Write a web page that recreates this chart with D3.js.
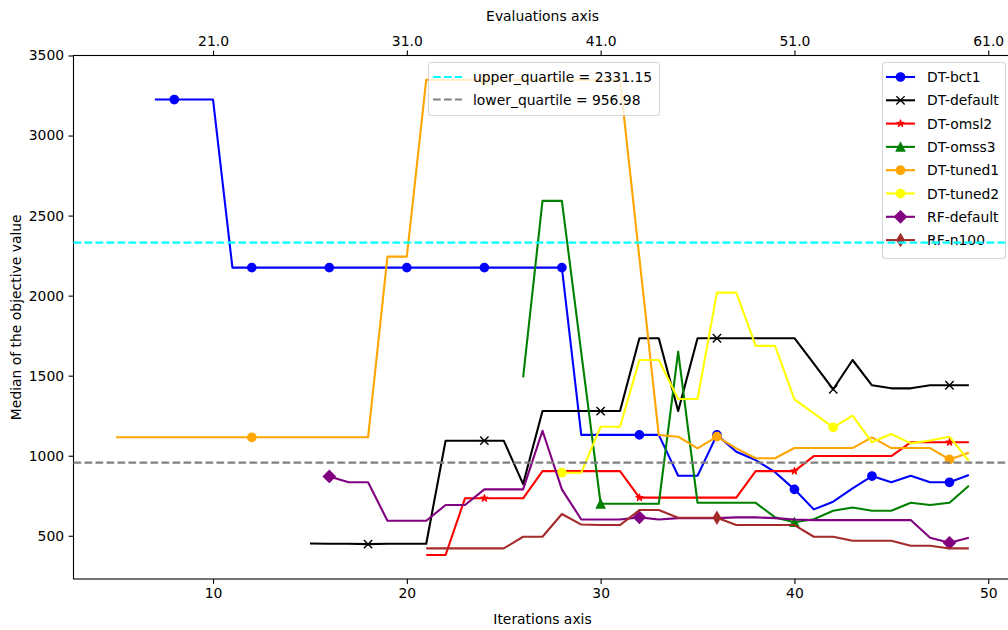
<!DOCTYPE html>
<html>
<head>
<meta charset="utf-8">
<script src="https://cdn.jsdelivr.net/npm/d3@7"></script>
<style>
  html, body { margin: 0; padding: 0; background: #fff; }
  svg text { font-family: "DejaVu Sans", sans-serif; fill: #000; }
</style>
</head>
<body>
<svg id="chart" width="1008" height="630"></svg>
<script>
// ---- data ---------------------------------------------------------------
const seriesNames = ["DT-bct1", "DT-default", "DT-omsl2", "DT-omss3",
                     "DT-tuned1", "DT-tuned2", "RF-default", "RF-n100"];
// first iteration of each series
const seriesStart = [7, 15, 21, 26, 5, 28, 16, 21];

const bct1 = [3225, 3225, 3225, 3225, 2175, 2175, 2175, 2175, 2175, 2175, 2175, 2175,
  2175, 2175, 2175, 2175, 2175, 2175, 2175, 2175, 2175, 2175, 1130, 1130, 1130, 1130, 1130,
  875, 875, 1130, 1025, 973, 897, 790, 665, 713, 796, 873, 834, 875, 834, 834, 879];
const dtDefault = [452, 450, 450, 448, 450, 450, 450, 1094, 1094, 1094, 1094, 823,
  1279, 1279, 1279, 1279, 1279, 1734, 1734, 1279, 1734, 1734, 1734, 1734, 1734, 1734,
  1575, 1415, 1598, 1440, 1421, 1421, 1440, 1440, 1440];
const omsl2 = [380, 380, 734, 734, 734, 734, 904, 904, 904, 904, 904, 738, 738, 738,
  738, 738, 738, 904, 904, 904, 998, 998, 998, 998, 998, 1084, 1084, 1084, 1084];
const omss3 = [1490, 2592, 2592, 1644, 700, 700, 700, 700, 1650, 706, 706, 706, 706,
  615, 585, 603, 656, 677, 656, 656, 706, 692, 706, 813];
const tuned1 = [1115, 1115, 1115, 1115, 1115, 1115, 1115, 1115, 1115, 1115, 1115, 1115,
  1115, 1115, 2244, 2244, 3348, 3348, 3348, 3348, 3348, 3348, 3348, 3348, 3348, 3348,
  3348, 2235, 1129, 1119, 1046, 1119, 1046, 984, 984, 1048, 1048, 1048, 1048, 1115,
  1048, 1048, 1048, 977, 1019];
const tuned2 = [894, 894, 1181, 1181, 1598, 1598, 1354, 1354, 2019, 2019, 1686, 1686,
  1352, 1265, 1177, 1250, 1084, 1136, 1077, 1095, 1119, 967];
const rfDefault = [871, 834, 834, 594, 594, 594, 692, 692, 790, 790, 790, 1156, 790,
  602, 602, 602, 615, 602, 610, 610, 610, 615, 615, 610, 602, 598, 598, 598, 598, 598,
  598, 488, 456, 488];
const rfN100 = [421, 421, 421, 421, 421, 494, 494, 636, 570, 567, 567, 661, 661, 613,
  613, 613, 567, 567, 567, 567, 494, 494, 469, 469, 469, 438, 438, 421, 421];

const seriesValues = [bct1, dtDefault, omsl2, omss3, tuned1, tuned2, rfDefault, rfN100];

const quartileNames = ["upper_quartile", "lower_quartile"];
const quartileValues = [2331.15, 956.98];

const xTicks = [10, 20, 30, 40, 50];
const topTickLabels = ["21.0", "31.0", "41.0", "51.0", "61.0"];
const yTicks = [500, 1000, 1500, 2000, 2500, 3000, 3500];

// ---- styles ---------------------------------------------------------------
const colors = ["#0000ff", "#000000", "#ff0000", "#008000",
                "#ffa500", "#ffff00", "#800080", "#a52a2a"];
const markers = ["o", "x", "*", "^", "o", "o", "D", "d"];
const markEvery = [4, 6, 8, 10, 12, 14, 16, 18];
const quartileColors = ["#00ffff", "#808080"];

// ---- layout ---------------------------------------------------------------
const svg = d3.select("#chart");
const L = 73.5, R = 1011.5, T = 55.5, B = 579;

const x = d3.scaleLinear().domain([2.8, 51.2]).range([L, R]);
const y = d3.scaleLinear().domain([230, 3500]).range([B, T]);

svg.append("rect").attr("width", 1008).attr("height", 630).attr("fill", "#fff");

const line = d3.line().x(d => x(d.i)).y(d => y(d.v)).curve(d3.curveLinear);

function markerPath(kind) {
  const s = 4.17; // half marker size in px
  switch (kind) {
    case "x": return `M${-s},${-s}L${s},${s}M${-s},${s}L${s},${-s}`;
    case "^": return `M0,${-s}L${-s},${s}L${s},${s}Z`;
    case "D": { const h = s * Math.SQRT2; return `M0,${-h}L${h},0L0,${h}L${-h},0Z`; }
    case "d": { const h = s * Math.SQRT2, w = h * 0.6; return `M0,${-h}L${w},0L0,${h}L${-w},0Z`; }
    case "*": {
      const ro = s * 0.95, ri = ro * 0.382;
      let p = "";
      for (let k = 0; k < 10; k++) {
        const r = k % 2 === 0 ? ro : ri;
        const a = -Math.PI / 2 + k * Math.PI / 5;
        p += (k === 0 ? "M" : "L") + (r * Math.cos(a)).toFixed(2) + "," + (r * Math.sin(a)).toFixed(2);
      }
      return p + "Z";
    }
    default: return d3.symbol(d3.symbolCircle, Math.PI * 4.17 * 4.17)();
  }
}

function drawMarker(g, kind, color, cx, cy) {
  const p = g.append("path")
    .attr("d", markerPath(kind))
    .attr("transform", `translate(${cx},${cy})`)
    .attr("stroke", color)
    .attr("stroke-width", kind === "*" ? 1.0 : 1.4)
    .attr("stroke-linejoin", "miter");
  p.attr("fill", kind === "x" ? "none" : color);
}

// ---- series ---------------------------------------------------------------
const plot = svg.append("g");
seriesNames.forEach((name, k) => {
  const pts = seriesValues[k].map((v, j) => ({ i: seriesStart[k] + j, v }));
  plot.append("path")
    .datum(pts)
    .attr("d", line)
    .attr("fill", "none")
    .attr("stroke", colors[k])
    .attr("stroke-width", 2.1)
    .attr("stroke-linejoin", "round");
  pts.filter(d => d.i % markEvery[k] === 0)
    .forEach(d => drawMarker(plot, markers[k], colors[k], x(d.i), y(d.v)));
});

// ---- frame and axes -------------------------------------------------------
const frame = svg.append("g");
frame.append("rect")
  .attr("x", L).attr("y", T).attr("width", R - L).attr("height", B - T)
  .attr("fill", "none").attr("stroke", "#000").attr("stroke-width", 1.1);

function styleAxis(g) {
  g.select(".domain").remove();
  g.selectAll(".tick line").attr("stroke", "#000").attr("stroke-width", 1.1);
  g.selectAll(".tick text").attr("font-size", "13.9px").attr("font-family", "DejaVu Sans, sans-serif");
}

svg.append("g").attr("transform", `translate(0,${B})`)
  .call(d3.axisBottom(x).tickValues(xTicks).tickSize(4.9).tickPadding(4.5).tickFormat(d3.format("d")))
  .call(styleAxis);

svg.append("g").attr("transform", `translate(0,${T})`)
  .call(d3.axisTop(x).tickValues(xTicks).tickSize(4.9).tickPadding(4.5)
    .tickFormat((d, idx) => topTickLabels[idx]))
  .call(styleAxis);

svg.append("g").attr("transform", `translate(${L},0)`)
  .call(d3.axisLeft(y).tickValues(yTicks).tickSize(4.9).tickPadding(4.5).tickFormat(d3.format("d")))
  .call(styleAxis);

svg.append("text").attr("x", (L + R) / 2).attr("y", 624)
  .attr("text-anchor", "middle").attr("font-size", "13.9px").text("Iterations axis");
svg.append("text").attr("x", (L + R) / 2).attr("y", 21)
  .attr("text-anchor", "middle").attr("font-size", "13.9px").text("Evaluations axis");
svg.append("text")
  .attr("transform", `translate(21,${(T + B) / 2}) rotate(-90)`)
  .attr("text-anchor", "middle").attr("font-size", "13.9px")
  .text("Median of the objective value");

// ---- series legend ---------------------------------------------------------
function legendBox(g, x0, y0, w, h) {
  g.append("rect").attr("x", x0).attr("y", y0).attr("width", w).attr("height", h)
    .attr("rx", 3).attr("ry", 3)
    .attr("fill", "#fff").attr("fill-opacity", 0.8)
    .attr("stroke", "#cccccc").attr("stroke-opacity", 0.8).attr("stroke-width", 1.1);
}

const leg = svg.append("g");
legendBox(leg, 882.5, 62.5, 123, 196);
seriesNames.forEach((name, k) => {
  const cy = 77 + k * 23.3;
  leg.append("line").attr("x1", 886).attr("x2", 915).attr("y1", cy).attr("y2", cy)
    .attr("stroke", colors[k]).attr("stroke-width", 2.1);
  drawMarker(leg, markers[k], colors[k], 900.5, cy);
  leg.append("text").attr("x", 927).attr("y", cy + 5).attr("font-size", "13.9px").text(name);
});

// ---- quartile reference lines and legend ---------------------------------
const qg = svg.append("g");
quartileValues.forEach((v, k) => {
  qg.append("line").attr("x1", L).attr("x2", R).attr("y1", y(v)).attr("y2", y(v))
    .attr("stroke", quartileColors[k]).attr("stroke-width", 2.1)
    .attr("stroke-dasharray", "7.7,3.3");
});

const qleg = svg.append("g");
legendBox(qleg, 428.5, 62.5, 231, 53);
quartileNames.forEach((name, k) => {
  const cy = 77 + k * 22.5;
  qleg.append("line").attr("x1", 433).attr("x2", 462).attr("y1", cy).attr("y2", cy)
    .attr("stroke", quartileColors[k]).attr("stroke-width", 2.1)
    .attr("stroke-dasharray", "7.7,3.3");
  qleg.append("text").attr("x", 473).attr("y", cy + 5).attr("font-size", "13.9px")
    .text(`${name} = ${quartileValues[k]}`);
});
</script>
</body>
</html>
